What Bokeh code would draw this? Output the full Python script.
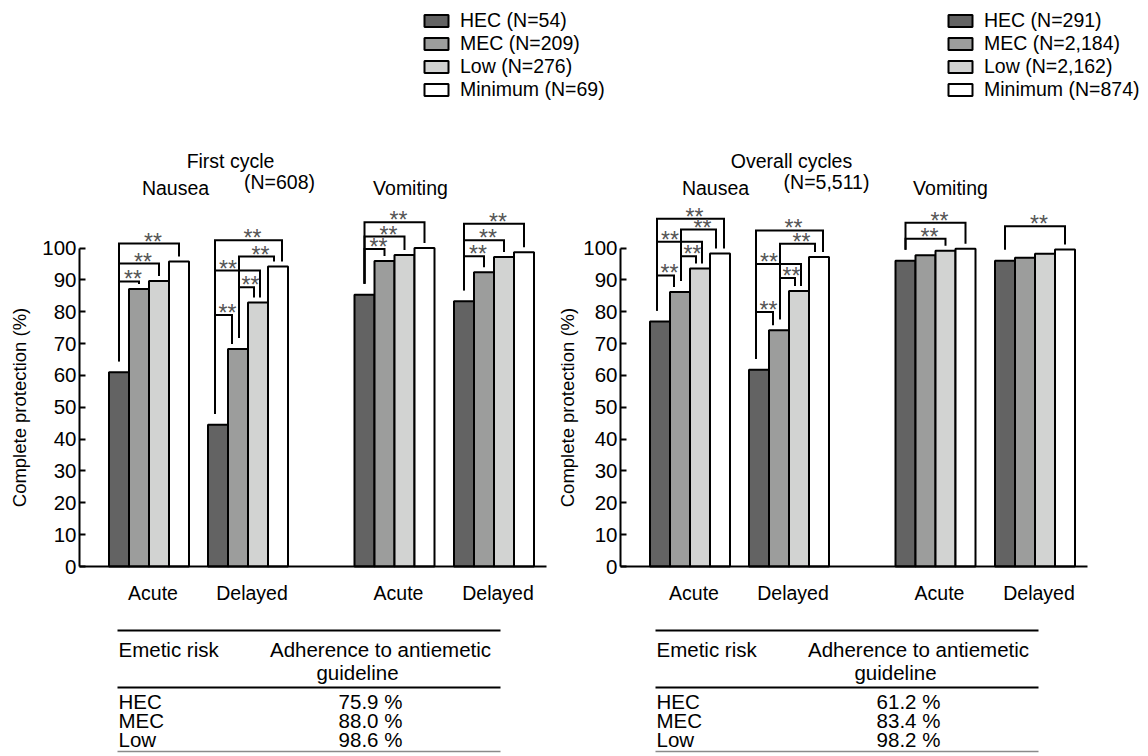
from bokeh.plotting import figure
from bokeh.models import Range1d, LinearAxis, FixedTicker, SingleIntervalTicker, Legend, LegendItem
from bokeh.core.properties import value
from bokeh.embed import file_html
from bokeh.resources import INLINE

# ------------------------------------------------------------------ data
risk_levels = ["HEC", "MEC", "Low", "Minimum"]
outcome_names = ["Nausea", "Vomiting"]
phase_names = ["Acute", "Delayed", "Acute", "Delayed"]
table_header = ["Emetic risk", "Adherence to antiemetic", "guideline"]
table_rows = ["HEC", "MEC", "Low"]
sig_mark = "**"
y_label = "Complete protection (%)"

first_title = "First cycle"
first_total = "(N=608)"
first_counts = ["54", "209", "276", "69"]
first_hec = [61.0, 44.5, 85.3, 83.3]
first_mec = [87.1, 68.3, 95.9, 92.4]
first_low = [89.6, 82.9, 97.8, 97.2]
first_min = [95.8, 94.2, 100.0, 98.7]
first_sig_phase = [0, 0, 0, 1, 1, 1, 1, 1, 2, 2, 2, 3, 3, 3]
first_sig_a = [0, 0, 0, 0, 0, 0, 1, 1, 0, 0, 0, 0, 0, 0]
first_sig_b = [1, 2, 3, 1, 2, 3, 2, 3, 1, 2, 3, 1, 2, 3]
first_sig_level = [89.5, 95.1, 101.4, 79.0, 92.9, 102.4, 87.7, 97.3,
                   99.7, 103.6, 108.1, 97.4, 102.4, 107.6]
first_adherence = [75.9, 88.0, 98.6]

overall_title = "Overall cycles"
overall_total = "(N=5,511)"
overall_counts = ["291", "2,184", "2,162", "874"]
overall_hec = [76.9, 61.8, 96.0, 96.0]
overall_mec = [86.2, 74.2, 97.7, 96.9]
overall_low = [93.6, 86.5, 99.1, 98.2]
overall_min = [98.3, 97.2, 99.8, 99.5]
overall_sig_phase = [0, 0, 0, 0, 0, 1, 1, 1, 1, 1, 2, 2, 3]
overall_sig_a = [0, 0, 0, 1, 1, 0, 0, 0, 1, 1, 0, 0, 0]
overall_sig_b = [1, 2, 3, 2, 3, 1, 2, 3, 2, 3, 2, 3, 3]
overall_sig_level = [91.4, 102.0, 109.2, 97.4, 105.8, 79.9, 95.0, 105.5, 90.6, 101.3,
                     102.9, 107.9, 106.8]
overall_adherence = [61.2, 83.4, 98.2]

# ------------------------------------------------------------------ layout / style
W, H = 1148, 756
Y_ZERO_PX = 566.0
PX_PER_PCT = 3.185
BAR_W = 20.0
GROUP_START = [29.5, 128.5, 275.0, 374.5]
AXIS_LEN = 467.0
LABEL_SHIFT = 4.0
COLORS = ["#636363", "#9c9d9c", "#d2d3d2", "#ffffff"]
FONT = "Liberation Sans"
FS = "19.5px"
LEFT_LEG_DX = [-3.0, 1.0]
RIGHT_LEG_DX = {(0, 1): -6.0, (0, 2): 2.0, (0, 3): 4.0, (1, 2): -4.0, (1, 3): -4.0}
LEG_ROW = 23
LEG_TOP = 8.5


def X(px):
    return px


def Y(py):
    return (Y_ZERO_PX - py) / PX_PER_PCT


def PCT(dpx):
    return dpx / PX_PER_PCT


p = figure(width=W, height=H, x_range=Range1d(0, W),
           y_range=Range1d(Y(H), Y(0)),
           x_axis_type=None, y_axis_type=None,
           output_backend="svg", toolbar_location=None, min_border=0)
p.outline_line_color = None
p.background_fill_color = "white"
p.border_fill_color = "white"


def put_text(xs, ys, texts, align="center", size=FS, color="black"):
    p.text(x=xs, y=ys, text=texts, text_align=align, text_baseline="middle",
           text_font=value(FONT), text_font_size=size, text_color=color)


def draw_panel(origin_px, series, counts, sig_phase, sig_a, sig_b, sig_level,
               title, total, title_xy, total_xy, outcome_xs, legend_px, table_dx,
               adherence, label_standoff):
    ox = X(origin_px)

    def center(g, k):
        return ox + GROUP_START[g] + k * BAR_W + BAR_W / 2

    renderers = []
    for k, vals in enumerate(series):
        r = p.vbar(x=[center(g, k) for g in range(len(vals))], top=vals, bottom=0,
                   width=BAR_W, fill_color=COLORS[k], line_color="black", line_width=2)
        renderers.append(r)

    # y axis
    yax = LinearAxis(fixed_location=ox, bounds=(0, 100),
                     ticker=SingleIntervalTicker(interval=10, num_minor_ticks=0),
                     axis_label=y_label)
    yax.axis_line_width = 2
    yax.major_tick_in = 6
    yax.major_tick_out = 0
    yax.major_tick_line_width = 2
    yax.minor_tick_line_color = None
    yax.major_label_standoff = 3
    yax.major_label_text_font = FONT
    yax.major_label_text_font_size = "20.5px"
    yax.major_label_text_color = "black"
    yax.axis_label_text_font = FONT
    yax.axis_label_text_font_size = "18.5px"
    yax.axis_label_text_font_style = "normal"
    yax.axis_label_text_color = "black"
    yax.axis_label_standoff = label_standoff
    p.add_layout(yax, "left")

    # x axis
    ticks = [ox + GROUP_START[g] + 2 * BAR_W + LABEL_SHIFT for g in range(4)]
    xax = LinearAxis(fixed_location=0, bounds=(ox, ox + AXIS_LEN),
                     ticker=FixedTicker(ticks=ticks),
                     major_label_overrides={t: lab for t, lab in zip(ticks, phase_names)})
    xax.axis_line_width = 2
    xax.major_tick_line_color = None
    xax.minor_tick_line_color = None
    xax.major_label_standoff = 9
    xax.major_label_text_font = FONT
    xax.major_label_text_font_size = FS
    xax.major_label_text_color = "black"
    p.add_layout(xax, "below")

    # significance brackets
    nested = {g for g, a in zip(sig_phase, sig_a) if a == 1}
    xs_list, ys_list, tx, ty = [], [], [], []
    for g, a, b, lvl in zip(sig_phase, sig_a, sig_b, sig_level):
        xa = center(g, a) + (LEFT_LEG_DX[a] if g in nested else 0.0)
        xb = center(g, b) + (RIGHT_LEG_DX[(a, b)] if g in nested else 0.0)
        ya = series[a][g] + PCT(11)
        yb = series[b][g] + PCT(5)
        xs_list.append([xa, xa, xb, xb])
        ys_list.append([ya, lvl, lvl, yb])
        if g in nested and (a, b) == (0, 2):
            tx.append(xa + 13)
        else:
            tx.append((xa + xb) / 2 + 4)
        ty.append(lvl + PCT(2))
    p.multi_line(xs=xs_list, ys=ys_list, line_color="black", line_width=2, line_join="miter")
    put_text(tx, ty, [sig_mark] * len(tx), size="23px", color="#555555")

    # legend
    items = [LegendItem(label=f"{lv} (N={n})", renderers=[r])
             for lv, n, r in zip(risk_levels, counts, renderers)]
    leg_h = LEG_ROW * len(items)
    leg = Legend(items=items, location=(X(legend_px), H - LEG_TOP - leg_h),
                 orientation="vertical",
                 padding=0, margin=0, spacing=0, label_standoff=9,
                 glyph_width=30, glyph_height=15, label_height=LEG_ROW,
                 border_line_color=None, background_fill_alpha=0,
                 label_text_font=FONT, label_text_font_size=FS, label_text_color="black")
    p.add_layout(leg)

    # titles
    put_text([X(title_xy[0])], [Y(title_xy[1])], [title])
    put_text([X(total_xy[0])], [Y(total_xy[1])], [total])
    put_text([X(x) for x in outcome_xs], [Y(187)] * 2, outcome_names)

    # adherence table
    xl, xr = X(117 + table_dx), X(500 + table_dx)
    p.segment(x0=[xl, xl], y0=[Y(630), Y(687)], x1=[xr, xr], y1=[Y(630), Y(687)],
              line_color="black", line_width=2)
    p.segment(x0=[xl], y0=[Y(751)], x1=[xr], y1=[Y(751)], line_color="#8a8a8a", line_width=1.5)
    tfs = "20.5px"
    put_text([X(118 + table_dx)], [Y(649)], [table_header[0]], align="left", size=tfs)
    put_text([X(380 + table_dx)], [Y(649)], [table_header[1]], size=tfs)
    put_text([X(357 + table_dx)], [Y(672)], [table_header[2]], size=tfs)
    row_y = [Y(701), Y(720), Y(739)]
    put_text([X(118 + table_dx)] * 3, row_y, table_rows, align="left", size=tfs)
    put_text([X(370 + table_dx)] * 3, row_y, [f"{v:.1f} %" for v in adherence], size=tfs)


draw_panel(79, [first_hec, first_mec, first_low, first_min], first_counts,
           first_sig_phase, first_sig_a, first_sig_b, first_sig_level,
           first_title, first_total, (230, 160), (279, 181), (175, 410),
           421, 0, first_adherence, 9)
draw_panel(620, [overall_hec, overall_mec, overall_low, overall_min], overall_counts,
           overall_sig_phase, overall_sig_a, overall_sig_b, overall_sig_level,
           overall_title, overall_total, (791, 160), (826, 181), (715, 950),
           945, 538, overall_adherence, 2)

open("out.html", "w").write(file_html(p, INLINE))
